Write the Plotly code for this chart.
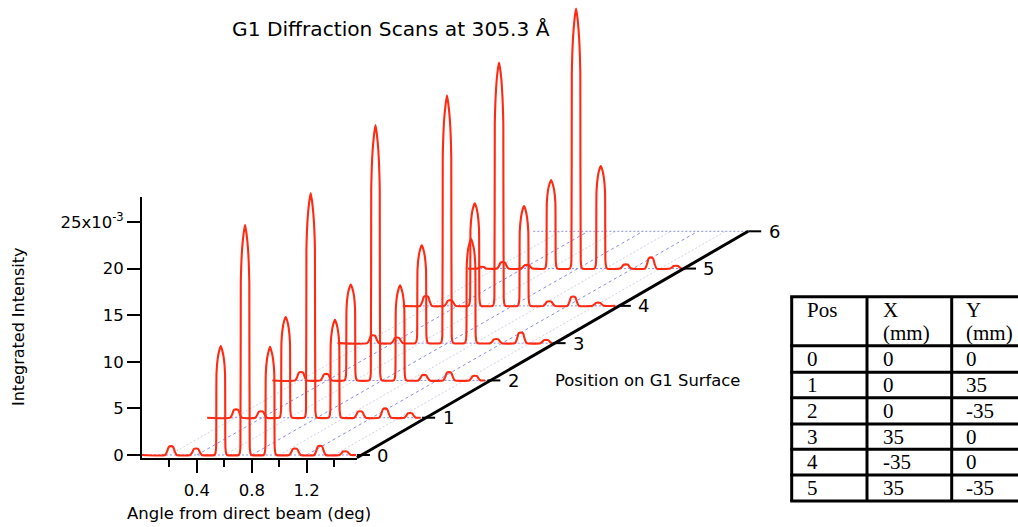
import plotly.graph_objects as go

# --- scan data: angle (deg) and integrated intensity (x10^-3) ---
ANGLE_0 = [0.0, .169,.183,.195,.211,.227,.239,.253, .352,.366,.378,.394,.41,.422,.436,
           .528,.535,.54,.543,.552,.563,.574,.585,.596,.605,.608,.613,.62,
           .705,.712,.717,.72,.729,.74,.751,.762,.773,.782,.785,.79,.797,
           .887,.894,.899,.902,.911,.922,.933,.944,.955,.964,.967,.972,.979,
           1.073,1.087,1.099,1.115,1.131,1.143,1.157, 1.255,1.269,1.281,1.297,1.313,1.325,1.339,
           1.438,1.452,1.464,1.48,1.496,1.508,1.522, 1.56]
INTENSITY_0 = [0.0, 0,.38,.87,.95,.87,.38,0, 0,.28,.64,.7,.64,.28,0,
               0,.2,.8,8.8,10.4,11.2,11.7,11.2,10.4,8.8,.8,.2,0,
               0,.2,.8,18.5,22,23.7,24.7,23.7,22,18.5,.8,.2,0,
               0,.2,.8,8.7,10.3,11.1,11.6,11.1,10.3,8.7,.8,.2,0,
               0,.28,.64,.7,.64,.28,0, 0,.4,.92,1,.92,.4,0,
               0,.16,.37,.4,.37,.16,0, 0]

ANGLE_1 = [0.0, .168,.182,.194,.21,.226,.238,.252, .35,.364,.376,.392,.408,.42,.434,
           .526,.533,.538,.541,.55,.561,.572,.583,.594,.603,.606,.611,.618,
           .708,.715,.72,.723,.732,.743,.754,.765,.776,.785,.788,.793,.8,
           .885,.892,.897,.9,.909,.92,.931,.942,.953,.962,.965,.97,.977,
           1.072,1.086,1.098,1.114,1.13,1.142,1.156, 1.254,1.268,1.28,1.296,1.312,1.324,1.338,
           1.436,1.45,1.462,1.478,1.494,1.506,1.52, 1.555]
INTENSITY_1 = [0.0, 0,.36,.83,.9,.83,.36,0, 0,.28,.64,.7,.64,.28,0,
               0,.2,.8,8.1,9.6,10.4,10.8,10.4,9.6,8.1,.8,.2,0,
               0,.2,.8,18.1,21.4,23.1,24.1,23.1,21.4,18.1,.8,.2,0,
               0,.2,.8,7.9,9.35,10.1,10.5,10.1,9.35,7.9,.8,.2,0,
               0,.28,.64,.7,.64,.28,0, 0,.4,.92,1,.92,.4,0,
               0,.2,.46,.5,.46,.2,0, 0]

ANGLE_2 = [0.0, .166,.18,.192,.208,.224,.236,.25, .349,.363,.375,.391,.407,.419,.433,
           .525,.532,.537,.54,.549,.56,.571,.582,.593,.602,.605,.61,.617,
           .705,.712,.717,.72,.729,.74,.751,.762,.773,.782,.785,.79,.797,
           .884,.891,.896,.899,.908,.919,.93,.941,.952,.961,.964,.969,.976,
           1.063,1.077,1.089,1.105,1.121,1.133,1.147, 1.245,1.259,1.271,1.287,1.303,1.315,1.329,
           1.433,1.447,1.459,1.475,1.491,1.503,1.517, 1.55]
INTENSITY_2 = [0.0, 0,.36,.83,.9,.83,.36,0, 0,.28,.64,.7,.64,.28,0,
               0,.2,.8,7.7,9.2,9.9,10.3,9.9,9.2,7.7,.8,.2,0,
               0,.2,.8,20.55,24.4,26.3,27.4,26.3,24.4,20.55,.8,.2,0,
               0,.2,.8,7.65,9.1,9.8,10.2,9.8,9.1,7.65,.8,.2,0,
               0,.24,.55,.6,.55,.24,0, 0,.36,.83,.9,.83,.36,0,
               0,.2,.46,.5,.46,.2,0, 0]

ANGLE_3 = [0.0, .216,.23,.242,.258,.274,.286,.3, .391,.405,.417,.433,.449,.461,.475,
           .567,.574,.579,.582,.591,.602,.613,.624,.635,.644,.647,.652,.659,
           .751,.758,.763,.766,.775,.786,.797,.808,.819,.828,.831,.836,.843,
           .926,.933,.938,.941,.95,.961,.972,.983,.994,1.003,1.006,1.011,1.018,
           1.113,1.127,1.139,1.155,1.171,1.183,1.197, 1.293,1.307,1.319,1.335,1.351,1.363,1.377,
           1.477,1.491,1.503,1.519,1.535,1.547,1.561]
INTENSITY_3 = [0.0, 0,.34,.78,.85,.78,.34,0, 0,.24,.55,.6,.55,.24,0,
               0,.2,.8,7.9,9.35,10.1,10.5,10.1,9.35,7.9,.8,.2,0,
               0,.2,.8,20,23.7,25.5,26.6,25.5,23.7,20,.8,.2,0,
               0,.2,.8,8.4,10,10.75,11.2,10.75,10,8.4,.8,.2,0,
               0,.18,.41,.45,.41,.18,0, 0,.46,1.06,1.15,1.06,.46,0,
               0,.14,.32,.35,.32,.14,0]

ANGLE_4 = [0.0, .127,.141,.153,.169,.185,.197,.211, .302,.316,.328,.344,.36,.372,.386,
           .478,.485,.49,.493,.502,.513,.524,.535,.546,.555,.558,.563,.57,
           .655,.662,.667,.67,.679,.69,.701,.712,.723,.732,.735,.74,.747,
           .837,.844,.849,.852,.861,.872,.883,.894,.905,.914,.917,.922,.929,
           1.024,1.038,1.05,1.066,1.082,1.094,1.108, 1.199,1.213,1.225,1.241,1.257,1.269,1.283,
           1.381,1.395,1.407,1.423,1.439,1.451,1.465, 1.547]
INTENSITY_4 = [0.0, 0,.42,.97,1.05,.97,.42,0, 0,.24,.55,.6,.55,.24,0,
               0,.2,.8,8.25,9.8,10.6,11,10.6,9.8,8.25,.8,.2,0,
               0,.2,.8,19.6,23.2,25.1,26.1,25.1,23.2,19.6,.8,.2,0,
               0,.2,.8,8,9.5,10.3,10.7,10.3,9.5,8,.8,.2,0,
               0,.2,.46,.5,.46,.2,0, 0,.4,.92,1,.92,.4,0,
               0,.14,.32,.35,.32,.14,0, 0]

ANGLE_5 = [0.0, .07,.085,.1,.115,.13, .211,.225,.237,.253,.269,.281,.295, .386,.4,.412,.428,.444,.456,.47,
           .559,.566,.571,.574,.583,.594,.605,.616,.627,.636,.639,.644,.651,
           .741,.748,.753,.756,.765,.776,.787,.798,.809,.818,.821,.826,.833,
           .921,.928,.933,.936,.945,.956,.967,.978,.989,.998,1.001,1.006,1.013,
           1.107,1.121,1.133,1.149,1.165,1.177,1.191, 1.29,1.304,1.316,1.332,1.348,1.36,1.374,
           1.472,1.486,1.498,1.514,1.53,1.542,1.556]
INTENSITY_5 = [0.0, 0,.18,.2,.18,0, 0,.28,.64,.7,.64,.28,0, 0,.16,.37,.4,.37,.16,0,
               0,.2,.8,7.1,8.45,9.1,9.5,9.1,8.45,7.1,.8,.2,0,
               0,.2,.8,20.9,24.8,26.8,27.9,26.8,24.8,20.9,.8,.2,0,
               0,.2,.8,8.25,9.8,10.6,11,10.6,9.8,8.25,.8,.2,0,
               0,.18,.41,.45,.41,.18,0, 0,.48,1.1,1.2,1.1,.48,0,
               0,.12,.28,.3,.28,.12,0]

ANGLES = [ANGLE_0, ANGLE_1, ANGLE_2, ANGLE_3, ANGLE_4, ANGLE_5]
INTENSITIES = [INTENSITY_0, INTENSITY_1, INTENSITY_2, INTENSITY_3, INTENSITY_4, INTENSITY_5]
POSITIONS = [0, 1, 2, 3, 4, 5, 6]
GRID_MAJOR = [0.4, 0.8, 1.2]
GRID_MINOR = [0.2, 0.6, 1.0, 1.4]
Y_TICKS = [0, 5, 10, 15, 20, 25]
Y_LABELS = ["0", "5", "10", "15", "20", "25x10<sup>-3</sup>"]

TABLE_HEAD = [["Pos", ""], ["X", "(mm)"], ["Y", "(mm)"]]
TABLE_POS = ["0", "1", "2", "3", "4", "5"]
TABLE_X = ["0", "0", "0", "35", "-35", "35"]
TABLE_Y = ["0", "35", "-35", "0", "0", "-35"]

# --- waterfall geometry ---
W, H = 1018, 527
DX = 65.2 / 137.2     # deg of horizontal shift per position
DY = 4.0              # intensity of vertical shift per position
X_MAX = 1.566
Y_MIN, Y_MAX = -0.29, 27.68
RED = "#ff2a12"
FONT = "DejaVu Sans"
SERIF = "Liberation Serif"

# Pixel frame of the visible axes box
AX_L, AX_R, AX_T, AX_B = 142.0, 356.9, 197.0, 457.7
PX_PER_DEG = (AX_R - AX_L) / X_MAX
PX_PER_I = (AX_B - AX_T) / (Y_MAX - Y_MIN)


def from_px_x(px):
    return (px - AX_L) / PX_PER_DEG


def from_px_y(py):
    return Y_MIN + (AX_B - py) / PX_PER_I


fig = go.Figure()


def line(xs, ys, color, width, dash=None, shape="linear", smoothing=None):
    fig.add_trace(go.Scatter(x=xs, y=ys, xaxis="x2", yaxis="y2", mode="lines", hoverinfo="skip",
                             showlegend=False,
                             line=dict(color=color, width=width, dash=dash, shape=shape, smoothing=smoothing)))


# an empty trace keeps the visible short axes alive
fig.add_trace(go.Scatter(x=[0], y=[0], mode="markers", marker=dict(opacity=0), hoverinfo="skip", showlegend=False))

for a in GRID_MINOR:
    line([a + p * DX for p in POSITIONS], [p * DY for p in POSITIONS], "#d2d2e6", 1, "2px,2px")
for a in GRID_MAJOR:
    line([a + p * DX for p in POSITIONS], [p * DY for p in POSITIONS], "#8c8ce8", 1, "3px,3px")
for p in POSITIONS:
    line([p * DX, X_MAX + p * DX], [p * DY, p * DY], "#8c8ce8", 1, "2px,2px")

for p, (ang, inten) in enumerate(zip(ANGLES, INTENSITIES)):
    line([a + p * DX for a in ang], [v + p * DY for v in inten], RED, 2.1, shape="spline", smoothing=0.5)

# depth axis and its ticks
line([X_MAX + POSITIONS[0] * DX, X_MAX + POSITIONS[-1] * DX],
     [Y_MIN, POSITIONS[-1] * DY], "black", 3)
for p in POSITIONS:
    line([X_MAX + p * DX, X_MAX + p * DX + 0.095], [p * DY, p * DY], "black", 2)
    fig.add_annotation(xref="x2", yref="y2", x=X_MAX + p * DX + 0.135, y=p * DY, text=str(p), showarrow=False,
                       xanchor="left", yanchor="middle", font=dict(family=FONT, size=18, color="black"))


def txt(px, py, text, size=16, family=FONT, anchor="left", angle=0):
    fig.add_annotation(x=from_px_x(px), y=from_px_y(py), xref="x2", yref="y2", text=text, showarrow=False,
                       xanchor=anchor, yanchor="middle", textangle=angle,
                       font=dict(family=family, size=size, color="black"))


txt(391, 29, "G1 Diffraction Scans at 305.3 Å", 20.2, anchor="center")
txt(18, 327, "Integrated Intensity", 16, anchor="center", angle=-90)
txt(249, 513, "Angle from direct beam (deg)", 16.5, anchor="center")
txt(553, 380, "Position on G1 Surface", 16.4)

# table
COL_X = [791.7, 867, 951.7, 1018]
ROW_Y = [296.7, 345.7, 372.3, 397.7, 424, 449.3, 475, 501]
shapes = []
for y in ROW_Y:
    shapes.append(dict(type="line", xref="paper", yref="paper", x0=(COL_X[0] - 1.5) / W, x1=1,
                       y0=1 - y / H, y1=1 - y / H, line=dict(color="black", width=3)))
for x in COL_X[:3]:
    shapes.append(dict(type="line", xref="paper", yref="paper", x0=x / W, x1=x / W,
                       y0=1 - ROW_Y[0] / H, y1=1 - ROW_Y[-1] / H, line=dict(color="black", width=3)))
TEXT_X = [805, 881, 964]
for tx, (a, b) in zip(TEXT_X, TABLE_HEAD):
    txt(tx, 310, a, 21, SERIF)
    if b:
        txt(tx, 333, b, 21, SERIF)
for i in range(6):
    cy = (ROW_Y[i + 1] + ROW_Y[i + 2]) / 2
    txt(TEXT_X[0], cy, TABLE_POS[i], 21, SERIF)
    txt(TEXT_X[1], cy, TABLE_X[i], 21, SERIF)
    txt(TEXT_X[2], cy, TABLE_Y[i], 21, SERIF)

fig.update_layout(
    width=W, height=H, margin=dict(l=0, r=0, t=0, b=0, autoexpand=False),
    paper_bgcolor="white", plot_bgcolor="rgba(0,0,0,0)", showlegend=False, shapes=shapes,
    xaxis=dict(domain=[AX_L / W, AX_R / W], range=[0, X_MAX], showgrid=False, zeroline=False,
               showline=True, linecolor="black", linewidth=2, ticks="outside", ticklen=13, tickwidth=2,
               tickcolor="black", tickvals=GRID_MAJOR, ticktext=["0.4", "0.8", "1.2"],
               ticklabelstandoff=3, tickfont=dict(family=FONT, size=16.5, color="black"),
               minor=dict(tickvals=GRID_MINOR, ticks="outside", ticklen=7, tickwidth=2,
                          tickcolor="black", showgrid=False)),
    yaxis=dict(domain=[1 - AX_B / H, 1 - AX_T / H], range=[Y_MIN, Y_MAX], showgrid=False, zeroline=False,
               showline=True, linecolor="black", linewidth=2, ticks="outside", ticklen=13, tickwidth=2,
               tickcolor="black", tickvals=Y_TICKS, ticktext=Y_LABELS,
               tickfont=dict(family=FONT, size=16.5, color="black")),
    # full-figure axes on the same scale, so curves can run past the visible axes box
    xaxis2=dict(domain=[0, 1], range=[from_px_x(0), from_px_x(W)], visible=False, anchor="y2"),
    yaxis2=dict(domain=[0, 1], range=[from_px_y(H), from_px_y(0)], visible=False, anchor="x2"),
)

fig.write_html("out.html", config={"displayModeBar": False},
               post_script="document.body.style.margin='0';document.body.style.overflow='hidden';")
